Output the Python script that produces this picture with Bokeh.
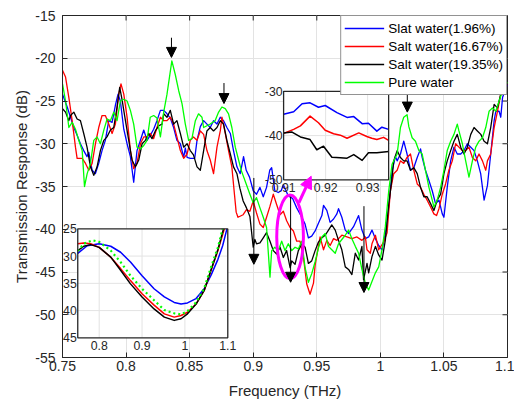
from math import pi
from bokeh.plotting import figure
from bokeh.models import Range1d, FixedTicker, Arrow, NormalHead, ColumnDataSource
from bokeh.core.properties import value
from bokeh.embed import file_html
from bokeh.resources import INLINE

# ---------------- data ----------------
x_ticks = [0.75, 0.8, 0.85, 0.9, 0.95, 1.0, 1.05, 1.1]
x_tick_labels = ["0.75", "0.8", "0.85", "0.9", "0.95", "1", "1.05", "1.1"]
y_ticks = [-55, -50, -45, -40, -35, -30, -25, -20, -15]
y_tick_labels = ["-55", "-50", "-45", "-40", "-35", "-30", "-25", "-20", "-15"]

series_names = ["Slat water(1.96%)", "Salt water(16.67%)", "Salt water(19.35%)", "Pure water"]
series_colors = ["#0000FF", "#FF0000", "#000000", "#00FF00"]

blue_pts = [(0.7500,-24.2),(0.7537,-25.7),(0.7563,-26.9),(0.7589,-28.1),(0.7615,-29.0),(0.7641,-30.0),
    (0.7667,-30.8),(0.7693,-31.5),(0.7707,-31.0),(0.7733,-33.1),(0.7759,-33.5),(0.7785,-32.3),(0.7811,-30.8),
    (0.7837,-29.6),(0.7864,-27.3),(0.7890,-27.5),(0.7916,-25.5),(0.7937,-24.2),(0.7955,-25.0),(0.7982,-28.3),
    (0.8008,-30.0),(0.8034,-31.5),(0.8060,-34.5),(0.8086,-30.8),(0.8113,-29.6),(0.8139,-28.4),(0.8165,-29.6),
    (0.8191,-29.0),(0.8217,-28.3),(0.8243,-27.3),(0.8270,-26.1),(0.8296,-26.1),(0.8322,-26.5),(0.8348,-27.0),
    (0.8374,-28.1),(0.8400,-29.6),(0.8427,-30.0),(0.8453,-31.6),(0.8466,-30.5),(0.8480,-31.6),(0.8505,-31.7),
    (0.8540,-31.7),(0.8558,-29.6),(0.8584,-28.0),(0.8610,-27.3),(0.8636,-27.7),(0.8662,-28.1),(0.8688,-27.3),
    (0.8715,-27.7),(0.8741,-26.9),(0.8767,-27.3),(0.8793,-28.1),(0.8820,-28.8),(0.8845,-30.8),(0.8872,-32.7),
    (0.8898,-33.5),(0.8924,-31.5),(0.8945,-33.1),(0.8971,-33.9),(0.9000,-35.5),(0.9026,-35.9),(0.9053,-35.1),
    (0.9079,-36.2),(0.9105,-35.1),(0.9130,-33.1),(0.9145,-32.8),(0.9170,-35.5),(0.9197,-35.7),(0.9220,-35.5),
    (0.9237,-34.8),(0.9276,-36.1),(0.9310,-36.4),(0.9342,-37.5),(0.9382,-38.6),(0.9408,-39.4),(0.9434,-41.0),
    (0.9460,-40.8),(0.9487,-40.2),(0.9513,-39.3),(0.9540,-38.4),(0.9553,-37.2),(0.9579,-37.8),(0.9605,-39.2),
    (0.9632,-38.8),(0.9658,-38.2),(0.9671,-37.6),(0.9697,-38.6),(0.9724,-40.1),(0.9750,-40.5),(0.9789,-39.7),
    (0.9829,-38.4),(0.9855,-40.1),(0.9882,-41.1),(0.9908,-40.9),(0.9934,-40.1),(0.9961,-41.1),(0.9987,-41.9),
    (1.0013,-42.4),(1.0039,-40.5),(1.0066,-37.4),(1.0092,-33.2),(1.0118,-31.5),(1.0132,-32.0),(1.0158,-31.2),
    (1.0184,-29.7),(1.0210,-31.2),(1.0237,-33.1),(1.0263,-32.8),(1.0290,-31.6),(1.0316,-30.6),(1.0329,-31.6),
    (1.0355,-33.1),(1.0382,-34.3),(1.0408,-35.5),(1.0434,-37.0),(1.0461,-36.6),(1.0487,-38.2),(1.0500,-38.6),
    (1.0526,-35.1),(1.0553,-32.0),(1.0579,-30.4),(1.0605,-31.2),(1.0632,-31.2),(1.0658,-30.8),(1.0684,-30.0),
    (1.0711,-30.4),(1.0737,-30.8),(1.0763,-32.0),(1.0789,-33.5),(1.0816,-36.6),(1.0842,-34.9),(1.0868,-31.2),
    (1.0895,-27.3),(1.0908,-26.2),(1.0934,-26.2),(1.0947,-26.9),(1.0961,-24.6),(1.1000,-23.0)]

red_pts = [(0.7500,-21.4),(0.7524,-22.2),(0.7550,-24.6),(0.7576,-27.3),(0.7602,-30.4),(0.7615,-31.7),
    (0.7655,-31.7),(0.7681,-32.3),(0.7707,-33.1),(0.7733,-32.3),(0.7759,-30.0),(0.7785,-28.1),(0.7811,-26.7),
    (0.7837,-26.7),(0.7864,-27.7),(0.7890,-28.8),(0.7916,-27.7),(0.7942,-24.2),(0.7960,-23.0),(0.7982,-24.2),
    (0.8008,-26.9),(0.8034,-30.8),(0.8060,-32.9),(0.8086,-32.3),(0.8113,-30.0),(0.8139,-29.2),(0.8165,-29.2),
    (0.8191,-28.8),(0.8217,-29.4),(0.8243,-28.1),(0.8270,-26.9),(0.8296,-27.3),(0.8322,-27.3),(0.8348,-26.9),
    (0.8374,-27.7),(0.8400,-29.2),(0.8427,-30.8),(0.8453,-31.7),(0.8480,-31.2),(0.8505,-29.6),(0.8530,-29.2),
    (0.8558,-29.6),(0.8584,-28.5),(0.8610,-28.9),(0.8636,-30.8),(0.8662,-31.9),(0.8688,-33.5),(0.8715,-30.4),
    (0.8741,-28.5),(0.8754,-26.9),(0.8780,-28.8),(0.8806,-30.8),(0.8832,-32.7),(0.8853,-36.0),(0.8866,-38.0),
    (0.8880,-38.6),(0.8921,-38.3),(0.8947,-37.7),(0.8974,-37.9),(0.9000,-36.7),(0.9026,-38.1),(0.9053,-39.4),
    (0.9079,-39.8),(0.9105,-38.6),(0.9132,-37.3),(0.9158,-35.9),(0.9184,-37.1),(0.9211,-38.3),(0.9237,-37.9),
    (0.9263,-39.0),(0.9290,-39.8),(0.9316,-40.2),(0.9342,-41.4),(0.9368,-41.4),(0.9395,-43.3),(0.9421,-46.4),
    (0.9447,-47.6),(0.9474,-46.3),(0.9487,-44.2),(0.9513,-42.0),(0.9526,-40.9),(0.9553,-42.4),(0.9579,-41.3),
    (0.9605,-41.9),(0.9632,-41.1),(0.9658,-41.3),(0.9697,-40.7),(0.9737,-40.9),(0.9776,-41.1),(0.9816,-40.9),
    (0.9855,-41.3),(0.9882,-40.9),(0.9895,-42.4),(0.9921,-42.8),(0.9934,-41.7),(0.9961,-40.7),(0.9987,-42.4),
    (1.0026,-41.5),(1.0053,-40.4),(1.0079,-35.5),(1.0105,-33.5),(1.0132,-33.1),(1.0158,-32.0),(1.0184,-32.3),
    (1.0210,-31.6),(1.0237,-31.2),(1.0263,-33.1),(1.0290,-34.7),(1.0316,-35.1),(1.0342,-35.9),(1.0368,-36.6),
    (1.0395,-37.4),(1.0421,-38.2),(1.0442,-38.4),(1.0461,-37.6),(1.0487,-35.9),(1.0513,-34.7),(1.0539,-33.1),
    (1.0566,-32.0),(1.0592,-30.0),(1.0618,-30.4),(1.0645,-30.8),(1.0671,-30.8),(1.0697,-30.4),(1.0724,-31.6),
    (1.0750,-32.0),(1.0776,-31.2),(1.0803,-32.0),(1.0829,-33.1),(1.0842,-32.0),(1.0868,-31.2),(1.0895,-28.1),
    (1.0921,-26.2),(1.0947,-24.2),(1.1000,-23.0)]

black_pts = [(0.7500,-25.9),(0.7524,-26.3),(0.7550,-27.3),(0.7563,-26.7),(0.7589,-26.3),(0.7615,-27.1),
    (0.7641,-27.3),(0.7667,-28.8),(0.7693,-30.4),(0.7720,-32.7),(0.7746,-33.7),(0.7772,-32.7),(0.7798,-30.8),
    (0.7825,-29.6),(0.7850,-29.2),(0.7877,-28.4),(0.7903,-28.1),(0.7929,-25.7),(0.7950,-23.4),(0.7968,-24.8),
    (0.7995,-27.3),(0.8021,-29.6),(0.8047,-31.9),(0.8073,-32.7),(0.8100,-31.9),(0.8126,-30.0),(0.8152,-29.6),
    (0.8178,-28.8),(0.8204,-29.4),(0.8230,-28.5),(0.8257,-27.9),(0.8283,-27.7),(0.8296,-26.5),(0.8322,-26.9),
    (0.8348,-26.1),(0.8374,-27.7),(0.8400,-27.3),(0.8427,-28.8),(0.8453,-30.4),(0.8480,-30.0),(0.8505,-30.8),
    (0.8530,-31.3),(0.8558,-32.7),(0.8584,-33.1),(0.8610,-30.8),(0.8636,-28.5),(0.8662,-28.1),(0.8688,-28.5),
    (0.8715,-28.1),(0.8741,-27.3),(0.8767,-27.7),(0.8793,-29.6),(0.8820,-31.2),(0.8845,-32.7),(0.8872,-33.5),
    (0.8895,-35.2),(0.8921,-36.7),(0.8947,-37.5),(0.8974,-38.5),(0.9000,-42.1),(0.9013,-41.2),(0.9026,-41.7),
    (0.9053,-41.6),(0.9079,-41.0),(0.9105,-40.4),(0.9132,-41.4),(0.9158,-42.5),(0.9184,-42.9),(0.9211,-42.1),
    (0.9237,-43.3),(0.9263,-42.5),(0.9290,-44.5),(0.9303,-43.7),(0.9329,-44.1),(0.9355,-42.5),(0.9382,-41.7),
    (0.9408,-42.1),(0.9434,-44.0),(0.9460,-43.7),(0.9487,-42.5),(0.9513,-41.5),(0.9540,-41.0),(0.9566,-40.7),
    (0.9592,-40.1),(0.9618,-39.5),(0.9645,-40.1),(0.9671,-41.3),(0.9697,-42.4),(0.9724,-44.4),(0.9750,-44.7),
    (0.9776,-45.3),(0.9803,-42.8),(0.9829,-43.6),(0.9855,-42.0),(0.9868,-45.9),(0.9895,-44.0),(0.9908,-45.1),
    (0.9934,-43.2),(0.9961,-42.0),(0.9987,-43.0),(1.0013,-43.6),(1.0039,-41.3),(1.0066,-37.1),(1.0092,-34.0),
    (1.0105,-32.0),(1.0132,-30.8),(1.0158,-31.6),(1.0184,-32.0),(1.0210,-32.0),(1.0237,-33.1),(1.0263,-32.8),
    (1.0290,-33.5),(1.0316,-35.1),(1.0342,-36.2),(1.0368,-36.2),(1.0395,-37.0),(1.0421,-37.8),(1.0447,-36.6),
    (1.0474,-35.9),(1.0500,-33.5),(1.0526,-32.0),(1.0553,-30.8),(1.0579,-29.7),(1.0605,-28.9),(1.0632,-30.4),
    (1.0658,-31.2),(1.0684,-30.4),(1.0711,-28.9),(1.0737,-28.1),(1.0763,-28.5),(1.0790,-28.9),(1.0816,-29.7),
    (1.0842,-30.0),(1.0868,-28.1),(1.0895,-25.4),(1.0921,-25.8),(1.0947,-24.2),(1.1000,-23.0)]

green_pts = [(0.7500,-23.0),(0.7524,-25.0),(0.7550,-28.1),(0.7576,-27.5),(0.7602,-28.3),(0.7628,-29.6),
    (0.7655,-30.8),(0.7673,-35.0),(0.7694,-33.5),(0.7720,-32.3),(0.7746,-29.6),(0.7772,-29.2),(0.7798,-30.0),
    (0.7825,-28.4),(0.7851,-27.1),(0.7877,-27.3),(0.7903,-26.3),(0.7929,-27.3),(0.7955,-25.0),(0.7982,-24.8),
    (0.8008,-25.0),(0.8034,-26.1),(0.8060,-27.7),(0.8086,-30.4),(0.8113,-30.6),(0.8139,-30.2),(0.8165,-29.6),
    (0.8190,-26.9),(0.8217,-26.7),(0.8243,-27.0),(0.8270,-29.2),(0.8296,-26.3),(0.8322,-24.2),(0.8360,-20.3),
    (0.8387,-21.9),(0.8414,-23.8),(0.8440,-25.3),(0.8466,-27.7),(0.8492,-29.6),(0.8518,-29.4),(0.8545,-27.3),
    (0.8570,-26.5),(0.8597,-26.9),(0.8610,-28.1),(0.8636,-27.9),(0.8662,-27.7),(0.8700,-27.3),(0.8728,-26.3),
    (0.8754,-25.7),(0.8780,-25.9),(0.8806,-26.5),(0.8832,-28.1),(0.8859,-30.4),(0.8885,-31.9),(0.8908,-33.2),
    (0.8947,-34.8),(0.8974,-35.9),(0.9000,-36.9),(0.9026,-36.3),(0.9053,-37.5),(0.9079,-38.6),(0.9105,-39.8),
    (0.9132,-45.6),(0.9145,-42.5),(0.9170,-42.1),(0.9197,-42.5),(0.9224,-41.4),(0.9250,-42.5),(0.9276,-41.7),
    (0.9303,-42.5),(0.9329,-42.1),(0.9355,-42.3),(0.9382,-41.4),(0.9408,-44.5),(0.9434,-46.2),(0.9460,-45.2),
    (0.9487,-43.8),(0.9513,-42.2),(0.9540,-40.9),(0.9566,-40.5),(0.9592,-42.0),(0.9618,-42.4),(0.9645,-42.8),
    (0.9671,-41.7),(0.9697,-41.2),(0.9724,-40.7),(0.9750,-40.1),(0.9776,-41.1),(0.9803,-42.0),(0.9829,-42.8),
    (0.9855,-44.7),(0.9882,-46.3),(0.9908,-47.1),(0.9934,-46.1),(0.9961,-45.1),(0.9987,-44.4),(1.0013,-42.4),
    (1.0039,-39.7),(1.0066,-35.5),(1.0092,-32.4),(1.0132,-31.2),(1.0158,-28.1),(1.0184,-26.9),(1.0210,-26.6),
    (1.0224,-28.0),(1.0250,-29.3),(1.0276,-29.7),(1.0303,-30.8),(1.0329,-31.2),(1.0355,-33.1),(1.0382,-35.1),
    (1.0408,-36.6),(1.0421,-37.4),(1.0447,-36.6),(1.0474,-35.1),(1.0500,-33.1),(1.0526,-30.8),(1.0553,-29.7),
    (1.0579,-28.9),(1.0605,-27.7),(1.0618,-28.5),(1.0645,-30.0),(1.0671,-32.0),(1.0697,-33.9),(1.0724,-32.0),
    (1.0750,-30.4),(1.0776,-29.7),(1.0803,-29.3),(1.0829,-28.1),(1.0855,-26.2),(1.0882,-25.8),(1.0908,-26.2),
    (1.0934,-25.0),(1.0961,-23.8),(1.1000,-22.8)]

# inset (bottom-left): smooth fitted curves
bl_xlim = (0.75, 1.1)
bl_ylim = (-45, -25)
bl_xticks = [0.8, 0.9, 1.0, 1.1]
bl_xlabels = ["0.8", "0.9", "1", "1.1"]
bl_yticks = [-25, -30, -35, -40, -45]
bl_ylabels = ["-25", "-30", "-35", "-40", "-45"]
bl_blue = [(0.75,-29.5),(0.772,-28.1),(0.80,-27.75),(0.827,-28.2),(0.85,-29.3),(0.873,-31.1),(0.90,-33.6),
    (0.928,-36.0),(0.952,-37.5),(0.975,-38.5),(0.991,-38.8),(1.006,-38.6),(1.026,-37.8),(1.045,-36.0),
    (1.061,-33.5),(1.077,-30.6),(1.088,-28.1),(1.098,-25.0)]
bl_red = [(0.75,-27.75),(0.764,-27.6),(0.78,-27.75),(0.80,-28.4),(0.827,-30.2),(0.85,-32.3),(0.873,-34.5),
    (0.90,-36.9),(0.928,-39.0),(0.952,-40.6),(0.975,-41.2),(0.991,-40.9),(1.006,-40.3),(1.026,-38.8),
    (1.045,-36.3),(1.061,-32.6),(1.077,-29.0),(1.092,-25.0)]
bl_black = [(0.75,-29.0),(0.764,-28.2),(0.78,-27.9),(0.80,-28.4),(0.827,-30.2),(0.85,-32.6),(0.873,-35.1),
    (0.90,-37.5),(0.928,-39.7),(0.952,-41.2),(0.975,-41.8),(0.991,-41.5),(1.006,-40.6),(1.026,-38.8),
    (1.045,-36.3),(1.061,-32.5),(1.077,-28.8),(1.090,-25.0)]
bl_green = [(0.75,-29.1),(0.764,-27.75),(0.784,-27.1),(0.80,-27.4),(0.827,-29.0),(0.85,-31.1),(0.873,-33.6),
    (0.90,-36.0),(0.928,-38.1),(0.952,-39.9),(0.975,-40.5),(0.991,-40.7),(1.006,-40.1),(1.026,-38.5),
    (1.045,-35.9),(1.061,-32.0),(1.077,-28.4),(1.088,-25.0)]

# inset (top-right): zoom 0.91-0.935 THz
tr_xlim = (0.91, 0.935)
tr_ylim = (-50, -30)
tr_xticks = [0.91, 0.92, 0.93]
tr_xlabels = ["0.91", "0.92", "0.93"]
tr_yticks = [-30, -40, -50]
tr_ylabels = ["-30", "-40", "-50"]
tr_blue = [(0.9100,-35.2),(0.9124,-34.6),(0.9144,-32.8),(0.9163,-32.6),(0.9183,-33.6),(0.9199,-33.2),
    (0.9227,-34.8),(0.9251,-35.9),(0.9267,-35.7),(0.9287,-37.3),(0.9302,-37.2),(0.9322,-39.0),(0.9334,-38.1),
    (0.9350,-38.6)]
tr_red = [(0.9100,-39.5),(0.9124,-38.6),(0.9140,-37.8),(0.9163,-35.6),(0.9183,-37.1),(0.9199,-38.8),
    (0.9219,-39.6),(0.9235,-39.9),(0.9251,-40.6),(0.9279,-39.4),(0.9298,-40.2),(0.9310,-40.6),(0.9322,-40.9),
    (0.9338,-40.4),(0.9350,-41.1)]
tr_black = [(0.9100,-39.4),(0.9120,-39.2),(0.9140,-40.3),(0.9163,-40.9),(0.9179,-43.2),(0.9195,-42.4),
    (0.9215,-44.9),(0.9235,-45.0),(0.9251,-45.1),(0.9267,-44.3),(0.9287,-45.6),(0.9302,-43.9),(0.9322,-43.9),
    (0.9350,-43.6)]

# annotations
arrow_f = [0.8357, 0.8770, 0.9005, 0.9294, 0.9871, 1.0212]
arrow_from = [-17.6, -22.9, -34.0, -36.2, -37.3, -23.9]
arrow_to = [-19.9, -25.3, -44.1, -46.2, -47.4, -26.3]
ellipse_f, ellipse_db, ellipse_w, ellipse_h = 0.929, -40.9, 0.021, 9.8
pointer_from = (0.9359, -36.9)
pointer_to = (0.9456, -33.8)

# ---------------- figure ----------------
FONT = "Liberation Sans"
TXT = "#262626"

p = figure(width=514, height=401, x_range=Range1d(0.75, 1.1), y_range=Range1d(-55, -15),
           output_backend="svg", toolbar_location=None,
           min_border_left=62, min_border_right=7, min_border_top=15, min_border_bottom=43,
           background_fill_color="white", border_fill_color="white")

p.outline_line_color = TXT
p.outline_line_width = 1

p.xaxis.ticker = FixedTicker(ticks=x_ticks)
p.xaxis.major_label_overrides = {t: l for t, l in zip(x_ticks, x_tick_labels)}
p.yaxis.ticker = FixedTicker(ticks=y_ticks)
p.yaxis.major_label_overrides = {t: l for t, l in zip(y_ticks, y_tick_labels)}
p.xgrid.ticker = FixedTicker(ticks=x_ticks)
p.ygrid.ticker = FixedTicker(ticks=y_ticks)
p.grid.grid_line_color = "#e3e3e3"
p.grid.grid_line_width = 1

for ax in (p.xaxis[0], p.yaxis[0]):
    ax.major_tick_in = 5
    ax.major_tick_out = 0
    ax.minor_tick_in = 0
    ax.minor_tick_out = 0
    ax.axis_line_color = TXT
    ax.major_tick_line_color = TXT
    ax.major_label_text_font = FONT
    ax.major_label_text_font_size = "14px"
    ax.major_label_text_color = TXT
    ax.axis_label_text_font = FONT
    ax.axis_label_text_font_size = "15px"
    ax.axis_label_text_font_style = "normal"
    ax.axis_label_text_color = TXT

p.xaxis.axis_label = "Frequency (THz)"
p.yaxis.axis_label = "Transmission Response (dB)"
p.xaxis.major_label_standoff = 3
p.xaxis.axis_label_standoff = 8
p.yaxis.major_label_standoff = 7
p.yaxis.axis_label_standoff = 2

# inward ticks on the top and right edges of the box
p.ray(x=x_ticks[1:-1], y=[y_ticks[-1]] * (len(x_ticks) - 2), length=5, length_units="screen",
      angle=-pi / 2, line_color=TXT, line_width=1)
p.ray(x=[x_ticks[-1]] * (len(y_ticks) - 2), y=y_ticks[1:-1], length=5, length_units="screen",
      angle=pi, line_color=TXT, line_width=1)

# main series
for pts, name, col in zip([blue_pts, red_pts, black_pts, green_pts], series_names, series_colors):
    fx = [a for a, b in pts]
    fy = [b for a, b in pts]
    p.line(fx, fy, line_color=col, line_width=1.3, line_join="round", legend_label=name)

# magenta ellipse
p.ellipse(x=[ellipse_f], y=[ellipse_db], width=[ellipse_w], height=[ellipse_h],
          fill_color=None, line_color="#FF00FF", line_width=3)

# ---------------- inset bottom-left ----------------
bl = p.subplot(x_source=Range1d(*bl_xlim), y_source=Range1d(*bl_ylim),
               x_target=Range1d(0.762, 0.880), y_target=Range1d(-52.7, -39.95))
bl.quad(left=[bl_xlim[0]], right=[bl_xlim[1]], bottom=[bl_ylim[0]], top=[bl_ylim[1]],
        fill_color="white", line_color=None)
gx = [t for t in bl_xticks if bl_xlim[0] < t < bl_xlim[1]]
gy = [t for t in bl_yticks if bl_ylim[0] < t < bl_ylim[1]]
bl.segment(x0=gx, y0=[bl_ylim[0]] * len(gx), x1=gx, y1=[bl_ylim[1]] * len(gx), line_color="#e3e3e3", line_width=1)
bl.segment(x0=[bl_xlim[0]] * len(gy), y0=gy, x1=[bl_xlim[1]] * len(gy), y1=gy, line_color="#e3e3e3", line_width=1)
for pts, col, dash, lw in ((bl_blue, "#0000FF", "solid", 1.5), (bl_red, "#FF0000", "solid", 1.5),
                           (bl_black, "#000000", "solid", 1.5), (bl_green, "#00FF00", "2 3", 2.2)):
    bl.line([a for a, b in pts], [b for a, b in pts], line_color=col, line_width=lw,
            line_dash=dash, line_join="round")
bl.quad(left=[bl_xlim[0]], right=[bl_xlim[1]], bottom=[bl_ylim[0]], top=[bl_ylim[1]],
        fill_color=None, line_color=TXT, line_width=1.3)
bl.text(x=bl_xticks, y=[bl_ylim[0]] * len(bl_xticks), text=bl_xlabels, text_align="center",
        text_baseline="top", y_offset=3, text_font=value(FONT), text_font_size="12.3px", text_color=TXT)
bl.text(x=[bl_xlim[0]] * len(bl_yticks), y=bl_yticks, text=bl_ylabels, text_align="right",
        text_baseline="middle", x_offset=-1, text_font=value(FONT), text_font_size="12.3px", text_color=TXT)

# ---------------- inset top-right ----------------
tr = p.subplot(x_source=Range1d(*tr_xlim), y_source=Range1d(*tr_ylim),
               x_target=Range1d(0.9239, 1.0065), y_target=Range1d(-34.22, -23.87))
tr.quad(left=[tr_xlim[0]], right=[tr_xlim[1]], bottom=[tr_ylim[0]], top=[tr_ylim[1]],
        fill_color="white", line_color=None)
gx = [t for t in tr_xticks if tr_xlim[0] < t < tr_xlim[1]]
gy = [t for t in tr_yticks if tr_ylim[0] < t < tr_ylim[1]]
tr.segment(x0=gx, y0=[tr_ylim[0]] * len(gx), x1=gx, y1=[tr_ylim[1]] * len(gx), line_color="#e3e3e3", line_width=1)
tr.segment(x0=[tr_xlim[0]] * len(gy), y0=gy, x1=[tr_xlim[1]] * len(gy), y1=gy, line_color="#e3e3e3", line_width=1)
for pts, col in ((tr_blue, "#0000FF"), (tr_red, "#FF0000"), (tr_black, "#000000")):
    tr.line([a for a, b in pts], [b for a, b in pts], line_color=col, line_width=1.5, line_join="round")
tr.quad(left=[tr_xlim[0]], right=[tr_xlim[1]], bottom=[tr_ylim[0]], top=[tr_ylim[1]],
        fill_color=None, line_color=TXT, line_width=1.3)
tr.text(x=tr_xticks, y=[tr_ylim[0]] * len(tr_xticks), text=tr_xlabels, text_align="center",
        text_baseline="top", y_offset=3, text_font=value(FONT), text_font_size="12.3px", text_color=TXT)
tr.text(x=[tr_xlim[0]] * len(tr_yticks), y=tr_yticks, text=tr_ylabels, text_align="right",
        text_baseline="middle", x_offset=-1, text_font=value(FONT), text_font_size="12.3px", text_color=TXT)

# ---------------- arrows ----------------
arr_src = ColumnDataSource(dict(x0=arrow_f, y0=arrow_from, x1=arrow_f, y1=arrow_to))
p.add_layout(Arrow(end=NormalHead(size=10, fill_color="black", line_color="black", line_width=1),
                   x_start="x0", y_start="y0", x_end="x1", y_end="y1", source=arr_src,
                   line_color="black", line_width=1))
p.add_layout(Arrow(end=NormalHead(size=12, fill_color="#FF00FF", line_color="#FF00FF", line_width=1),
                   x_start=pointer_from[0], y_start=pointer_from[1],
                   x_end=pointer_to[0], y_end=pointer_to[1], line_color="#FF00FF", line_width=3))

# ---------------- legend ----------------
lg = p.legend[0]
lg.location = "top_right"
lg.margin = 0
lg.padding = 3
lg.spacing = 0
lg.glyph_width = 40
lg.glyph_height = 18
lg.label_height = 18
lg.label_standoff = 4
lg.label_text_font = FONT
lg.label_text_font_size = "13.5px"
lg.label_text_color = "#000000"
lg.border_line_color = TXT
lg.border_line_width = 1
lg.background_fill_alpha = 1.0

open("out.html", "w").write(file_html(p, INLINE))
